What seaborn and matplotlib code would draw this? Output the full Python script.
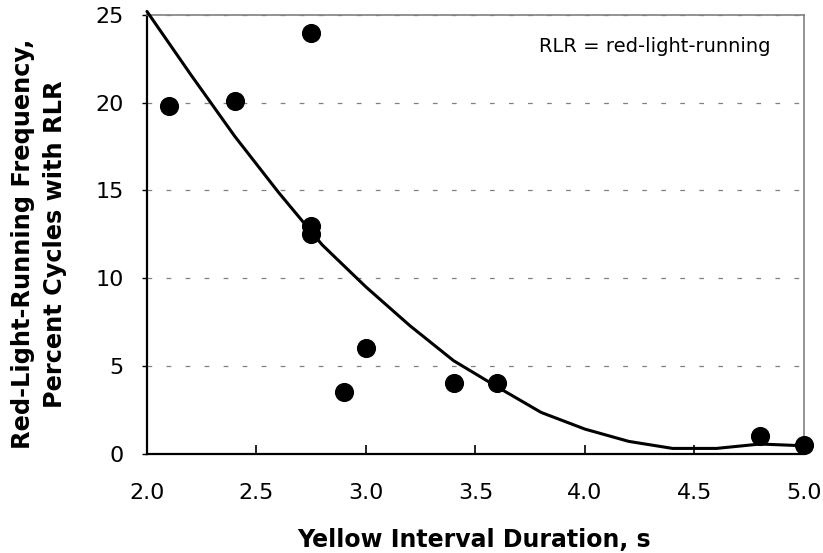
import matplotlib
matplotlib.use("Agg")
import matplotlib.pyplot as plt
import seaborn as sns

# Observed data points (yellow interval, % cycles with RLR)
yellow_s = [2.1, 2.4, 2.75, 2.75, 2.75, 2.9, 3.0, 3.4, 3.6, 4.8, 5.0]
rlr_pct = [19.8, 20.1, 24.0, 13.0, 12.5, 3.5, 6.0, 4.0, 4.0, 1.0, 0.5]

# Fitted trend curve
fit_x = [2.0, 2.2, 2.4, 2.6, 2.8, 3.0, 3.2, 3.4, 3.6, 3.8, 4.0, 4.2, 4.4, 4.6, 4.8, 5.0]
fit_y = [25.2, 21.6, 18.1, 14.9, 11.9, 9.5, 7.3, 5.3, 3.8, 2.35, 1.4, 0.7, 0.3, 0.3, 0.55, 0.45]

x_ticks = [2.0, 2.5, 3.0, 3.5, 4.0, 4.5, 5.0]
x_tick_labels = ["2.0", "2.5", "3.0", "3.5", "4.0", "4.5", "5.0"]
y_ticks = [0, 5, 10, 15, 20, 25]
y_tick_labels = ["0", "5", "10", "15", "20", "25"]

sns.set_theme(style="white")
plt.rcParams['font.family'] = ['DejaVu Sans']
plt.rcParams['lines.scale_dashes'] = False

fig = plt.figure(figsize=(8.23, 5.53), dpi=100)
ax = fig.add_axes([0.1786, 0.1796, 0.7983, 0.7933])

sns.lineplot(x=fit_x, y=fit_y, ax=ax, color='black', linewidth=2.2,
             clip_on=False, zorder=3)
sns.scatterplot(x=yellow_s, y=rlr_pct, ax=ax, color='black', s=190,
                edgecolor='black', linewidth=0, clip_on=False, zorder=4)

ax.set_xlim(2.0, 5.0)
ax.set_ylim(0, 25)
ax.set_xticks(x_ticks)
ax.set_xticklabels(x_tick_labels)
ax.set_yticks(y_ticks)
ax.set_yticklabels(y_tick_labels)

ax.yaxis.grid(True, color='#808080', linestyle=(0, (3.4, 10.3)), linewidth=0.9)
ax.xaxis.grid(False)
ax.set_axisbelow(True)

for side in ['left', 'bottom']:
    ax.spines[side].set_color('black')
    ax.spines[side].set_linewidth(1.6)
for side in ['top', 'right']:
    ax.spines[side].set_color('#808080')
    ax.spines[side].set_linewidth(1.2)

ax.tick_params(axis='x', bottom=True, direction='in', length=6.5, width=1.2,
               pad=21, labelsize=16, colors='black')
ax.tick_params(axis='y', left=True, direction='out', length=3.6, width=1.0,
               pad=13, labelsize=16, colors='black')

ax.text(4.845, 22.9, "RLR = red-light-running", ha='right', va='baseline',
        fontsize=14, color='black')

ax.set_xlabel("Yellow Interval Duration, s", fontsize=17, fontweight='bold',
              color='black')
ax.xaxis.set_label_coords(0.497, -0.169)
ax.set_ylabel("Red-Light-Running Frequency,\nPercent Cycles with RLR",
              fontsize=17.3, fontweight='bold', linespacing=1.43, color='black')
ax.yaxis.set_label_coords(-0.122, 0.478)

fig.savefig('out.png', dpi=100)
